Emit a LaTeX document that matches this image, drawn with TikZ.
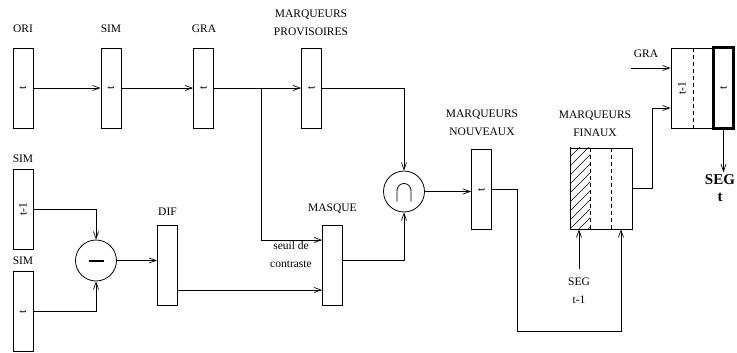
\documentclass[tikz,border=0pt]{standalone}
\usepackage{fontspec}
\setmainfont{Liberation Serif}
\usetikzlibrary{arrows.meta}
\begin{document}
\begin{tikzpicture}[x=1pt,y=-1pt,
 every node/.style={font=\fontsize{11.5}{13}\selectfont},
 box/.style={draw, line width=0.8pt, minimum width=20pt, minimum height=80pt, inner sep=0pt},
 lbl/.style={inner sep=0pt},
 lbltwo/.style={inner sep=0pt, align=center, font=\fontsize{11.5}{18}\selectfont},
 op/.style={draw, circle, line width=0.8pt, minimum size=41pt, inner sep=0pt},
 conn/.style={line width=0.7pt},
 arr/.style={conn, -{Straight Barb[length=7pt,width=5pt]}},
 dsh/.style={line width=0.7pt, dash pattern=on 4pt off 3pt}
]
\useasboundingbox (0,0) rectangle (737,353);

% top row
\node[box] (ori) at (23,88) {\rotatebox{90}{t}};
\node[lbl] (lori) at (23,29) {ORI};
\node[box] (sim) at (111,88) {\rotatebox{90}{t}};
\node[lbl] (lsim) at (111,29) {SIM};
\node[box] (gra) at (203.5,88) {\rotatebox{90}{t}};
\node[lbl] (lgra) at (204,29) {GRA};
\node[box] (prov) at (311.5,88) {\rotatebox{90}{t}};
\node[lbltwo] (lprov) at (311,22.5) {MARQUEURS\\PROVISOIRES};

% left column
\node[box] (simp) at (23,209.5) {\rotatebox{90}{t-1}};
\node[lbl] (lsimp) at (23,159) {SIM};
\node[box] (simc) at (23,311.5) {\rotatebox{90}{t}};
\node[lbl] (lsimc) at (23,261) {SIM};
\node[op] (minus) at (96,260.5) {\rule{15pt}{2pt}};

\node[box] (dif) at (167.5,265) {};
\node[lbl] (ldif) at (167.5,212) {DIF};

\node[box] (masq) at (332.5,265.5) {};
\node[lbl] (lmasq) at (332.5,209) {MASQUE};
\node[lbltwo] (lseuil) at (291,254.5) {seuil de\\contraste};

\node[op] (cap) at (404,191.5) {};
\draw[line width=0.8pt] ([shift={(-7,10)}]cap.center) -- ([shift={(-7,-1)}]cap.center)
  arc[start angle=180,end angle=360,radius=7] -- ([shift={(7,10)}]cap.center);

\node[box] (nouv) at (481.5,189.5) {\rotatebox{90}{t}};
\node[lbltwo] (lnouv) at (482,122.5) {MARQUEURS\\NOUVEAUX};

\node[draw, line width=0.8pt, minimum width=62pt, minimum height=81pt, inner sep=0pt] (fin) at (601,188.5) {};
\node[lbltwo] (lfin) at (595,124) {MARQUEURS\\FINAUX};
\begin{scope}
 \clip (fin.north west) rectangle ([xshift=-11pt]fin.south);
 \foreach \k in {0,9,...,120} \draw[line width=0.6pt] (570,148+\k) -- ++(40,-40);
\end{scope}
\draw[dsh] ([xshift=-11pt]fin.north) -- ([xshift=-11pt]fin.south);
\draw[dsh] ([xshift=10pt]fin.north) -- ([xshift=10pt]fin.south);
\node[lbltwo, inner ysep=8pt] (lsegp) at (579,290.5) {SEG\\t-1};

\node[draw, line width=0.8pt, minimum width=42pt, minimum height=80pt, inner sep=0pt] (segp) at (692,88) {};
\draw[dsh] ([xshift=1pt]segp.north) -- ([xshift=1pt]segp.south);
\node[lbl] (tsegp) at (682,88) {\rotatebox{90}{t-1}};
\node[draw, line width=3pt, minimum width=20pt, minimum height=80pt, inner sep=0pt] (segc) at (723.5,88) {\rotatebox{90}{t}};
\node[lbl] (lgra2) at (646,54) {GRA};
\node[inner sep=2pt, align=center, font=\fontsize{15}{17}\bfseries] (segout) at (720,188) {SEG\\t};

% coordinates for bends
\coordinate (br) at (261,88);
\coordinate (lowA) at (517,331);
\coordinate (up) at (652,108);
\coordinate (gin) at (631,68);

% connectors
\draw[arr] (ori.east) -- (sim.west);
\draw[arr] (sim.east) -- (gra.west);
\draw[arr] (gra.east) -- (prov.west);
\draw[arr] (br) |- ([yshift=25.5pt]masq.west);
\draw[arr] (prov.east) -| (cap.north);
\draw[arr] ([yshift=5.5pt]masq.east) -| (cap.south);
\draw[arr] (cap.east) -- (cap.east -| nouv.west);
\draw[arr] (simp.east) -| (minus.north);
\draw[arr] (simc.east) -| (minus.south);
\draw[arr] (minus.east) -- (minus.east -| dif.west);
\draw[arr] ([yshift=-25pt]dif.east) -- ([yshift=-25pt]dif.east -| masq.west);
\draw[arr] (nouv.east) -- (nouv.east -| lowA) -- (lowA) -| ([xshift=20pt]fin.south);
\draw[arr] (lsegp.north) -- (lsegp.north |- fin.south);
\draw[arr] (fin.east) -- (fin.east -| up) -- (up) -- (up -| segp.west);
\draw[arr] (gin) -- (gin -| segp.west);
\draw[arr] (segc.south) -- (segc.south |- segout.north);
\end{tikzpicture}
\end{document}
